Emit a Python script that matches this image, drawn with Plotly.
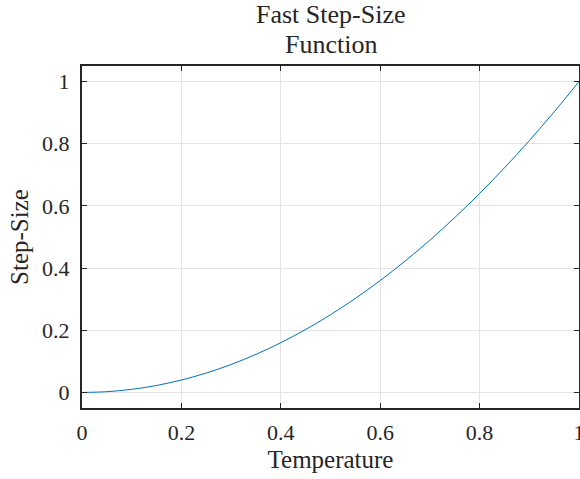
import plotly.graph_objects as go

temperature = [0.0, 0.05, 0.1, 0.15, 0.2, 0.25, 0.3, 0.35, 0.4, 0.45, 0.5,
               0.55, 0.6, 0.65, 0.7, 0.75, 0.8, 0.85, 0.9, 0.95, 1.0]
step_size = [0.0, 0.0025, 0.01, 0.0225, 0.04, 0.0625, 0.09, 0.1225, 0.16, 0.2025, 0.25,
             0.3025, 0.36, 0.4225, 0.49, 0.5625, 0.64, 0.7225, 0.81, 0.9025, 1.0]
x_ticks = [0, 0.2, 0.4, 0.6, 0.8, 1]
x_tick_labels = ["0", "0.2", "0.4", "0.6", "0.8", "1"]
y_ticks = [0, 0.2, 0.4, 0.6, 0.8, 1]
y_tick_labels = ["0", "0.2", "0.4", "0.6", "0.8", "1"]
title_lines = ["Fast Step-Size", "Function"]

FONT = "Liberation Serif"
AX = "#262626"

fig = go.Figure()
fig.add_trace(go.Scatter(x=temperature, y=step_size, mode="lines",
                         line=dict(color="#0072BD", width=1, shape="spline"),
                         showlegend=False))

axis_common = dict(showline=True, linecolor=AX, linewidth=2, mirror="ticks",
                   ticks="inside", ticklen=5, tickwidth=1, tickcolor=AX,
                   showgrid=True, gridcolor="#e3e3e3", gridwidth=1,
                   zeroline=False, ticklabeloverflow="allow", automargin=False,
                   tickfont=dict(family=FONT, size=22, color=AX))

fig.update_layout(
    width=580, height=479,
    margin=dict(l=82, r=1, t=66, b=71),
    paper_bgcolor="white", plot_bgcolor="white",
    font=dict(family=FONT, color=AX),
    xaxis=dict(range=[0, 1], tickvals=x_ticks, ticktext=x_tick_labels,
               ticklabelstandoff=4,
               title=dict(text="Temperature", font=dict(family=FONT, size=25, color=AX), standoff=6),
               **axis_common),
    yaxis=dict(range=[-0.05, 1.05], tickvals=y_ticks, ticktext=y_tick_labels,
               ticklabelstandoff=6,
               title=dict(text="Step-Size", font=dict(family=FONT, size=25, color=AX), standoff=6),
               **axis_common),
)

# two-line title, placed as annotations above the plot
plot_h = 479 - 66 - 71
for i, line in enumerate(title_lines):
    fig.add_annotation(text=line, xref="paper", yref="paper", x=0.5, xanchor="center",
                       y=1 + (35 - 30 * i) / plot_h, yanchor="bottom",
                       showarrow=False, font=dict(family=FONT, size=26, color=AX))

fig.write_html("out.html")
